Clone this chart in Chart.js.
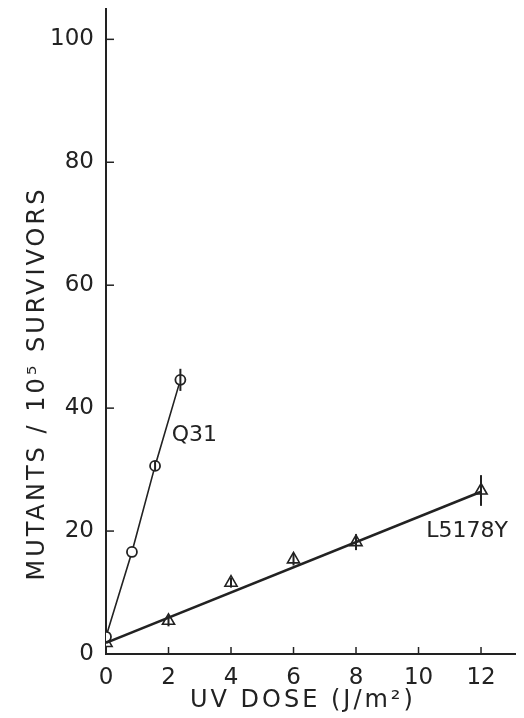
<!DOCTYPE html>
<html>
<head>
<meta charset="utf-8">
<script src="https://cdn.jsdelivr.net/npm/chart.js@4.4.1/dist/chart.umd.min.js"></script>
<style>
  html, body { margin: 0; padding: 0; background: #fff; }
  #wrap { width: 524px; height: 718px; }
</style>
</head>
<body>
<div id="wrap"><canvas id="uv-chart"></canvas></div>
<script>
// UV dose vs mutant frequency, two cell lines

// Q31 measurements (dose J/m2, mutants per 10^5 survivors, error)
const doseQ31 = [0, 0.83, 1.57, 2.38];
const mutQ31 = [2.8, 16.6, 30.6, 44.6];
const errQ31 = [0, 0, 0.8, 1.8];

// L5178Y measurements
const doseL5178Y = [0, 2, 4, 6, 8, 12];
const mutL5178Y = [1.8, 5.4, 11.6, 15.4, 18.2, 26.6];
const errL5178Y = [0, 0.9, 0.8, 1.0, 1.3, 2.5];

// fitted line for L5178Y
const fitDose = [0, 12];
const fitL5178Y = [1.8, 26.4];

// axis ranges and ticks
const xRange = [0, 13.1];
const yRange = [0, 105];
const xStep = 2;
const yStep = 20;

const INK = '#222';
const FONT = '"DejaVu Sans", sans-serif';

function toPoints(xs, ys) {
  return xs.map((x, i) => ({ x: x, y: ys[i] }));
}

// error bars, inward tick marks, series labels and axis titles
const decorations = {
  id: 'decorations',
  afterDatasetsDraw(chart) {
    const ctx = chart.ctx;
    const xs = chart.scales.x;
    const ys = chart.scales.y;
    ctx.save();
    ctx.strokeStyle = INK;
    ctx.lineWidth = 2;

    // error bars
    chart.data.datasets.forEach(ds => {
      if (!ds.errors) return;
      ds.data.forEach((p, i) => {
        const e = ds.errors[i];
        if (!e) return;
        const px = xs.getPixelForValue(p.x);
        ctx.beginPath();
        ctx.moveTo(px, ys.getPixelForValue(p.y - e));
        ctx.lineTo(px, ys.getPixelForValue(p.y + e));
        ctx.stroke();
      });
    });

    // tick marks pointing into the plot
    ctx.lineWidth = 1.5;
    xs.ticks.forEach(t => {
      if (t.value === 0) return;
      const px = xs.getPixelForValue(t.value);
      ctx.beginPath();
      ctx.moveTo(px, ys.bottom);
      ctx.lineTo(px, ys.bottom - 7);
      ctx.stroke();
    });
    ys.ticks.forEach(t => {
      if (t.value === 0) return;
      const py = ys.getPixelForValue(t.value);
      ctx.beginPath();
      ctx.moveTo(xs.left, py);
      ctx.lineTo(xs.left + 8, py);
      ctx.stroke();
    });

    // series labels
    ctx.fillStyle = INK;
    ctx.font = '22px ' + FONT;
    ctx.textAlign = 'left';
    ctx.textBaseline = 'middle';
    ctx.fillText('Q31', xs.getPixelForValue(2.1), ys.getPixelForValue(35.6));
    ctx.fillText('L5178Y', xs.getPixelForValue(10.25), ys.getPixelForValue(20));

    // x axis title
    ctx.textAlign = 'center';
    ctx.font = '24px ' + FONT;
    ctx.letterSpacing = '3px';
    ctx.fillText('UV DOSE (J/m\u00b2)', xs.getPixelForValue(6.3), 701);

    // y axis title
    ctx.translate(38, ys.getPixelForValue(44));
    ctx.rotate(-Math.PI / 2);
    ctx.font = '24px ' + FONT;
    ctx.letterSpacing = '3px';
    ctx.fillText('MUTANTS / 10\u2075 SURVIVORS', 0, 0);
    ctx.restore();
  }
};

function initChart() {
  const ctx = document.getElementById('uv-chart');

  new Chart(ctx, {
    type: 'scatter',
    data: {
      datasets: [
        {
          label: 'L5178Y fit',
          data: toPoints(fitDose, fitL5178Y),
          showLine: true,
          borderColor: INK,
          borderWidth: 2.5,
          pointRadius: 0
        },
        {
          label: 'Q31',
          data: toPoints(doseQ31, mutQ31),
          errors: errQ31,
          showLine: true,
          borderColor: INK,
          borderWidth: 1.6,
          pointStyle: 'circle',
          pointRadius: 5,
          pointBorderWidth: 1.8,
          pointBackgroundColor: '#fff',
          pointBorderColor: INK
        },
        {
          label: 'L5178Y',
          data: toPoints(doseL5178Y, mutL5178Y),
          errors: errL5178Y,
          showLine: false,
          pointStyle: 'triangle',
          pointRadius: 7,
          pointBorderWidth: 1.6,
          pointBackgroundColor: '#fff',
          pointBorderColor: INK
        }
      ]
    },
    options: {
      responsive: true,
      maintainAspectRatio: false,
      animation: false,
      layout: { padding: { left: 0, top: 8, right: 7, bottom: 0 } },
      plugins: {
        legend: { display: false },
        tooltip: { enabled: false }
      },
      scales: {
        x: {
          type: 'linear',
          min: xRange[0],
          max: xRange[1],
          afterFit(scale) {
            scale.height = 64;
            scale.paddingLeft = 0;
            scale.paddingRight = 0;
          },
          grid: { display: true, drawOnChartArea: false, drawTicks: false },
          border: { display: true, color: INK, width: 2 },
          ticks: {
            stepSize: xStep,
            includeBounds: false,
            padding: 10,
            color: INK,
            font: { family: FONT, size: 23 }
          }
        },
        y: {
          type: 'linear',
          min: yRange[0],
          max: yRange[1],
          afterFit(scale) {
            scale.width = 106;
            scale.paddingTop = 0;
            scale.paddingBottom = 0;
          },
          grid: { display: true, drawOnChartArea: false, drawTicks: false },
          border: { display: true, color: INK, width: 2 },
          ticks: {
            stepSize: yStep,
            includeBounds: false,
            padding: 12,
            color: INK,
            font: { family: FONT, size: 23 }
          }
        }
      }
    },
    plugins: [decorations]
  });
}

document.addEventListener('DOMContentLoaded', initChart);
</script>
</body>
</html>
